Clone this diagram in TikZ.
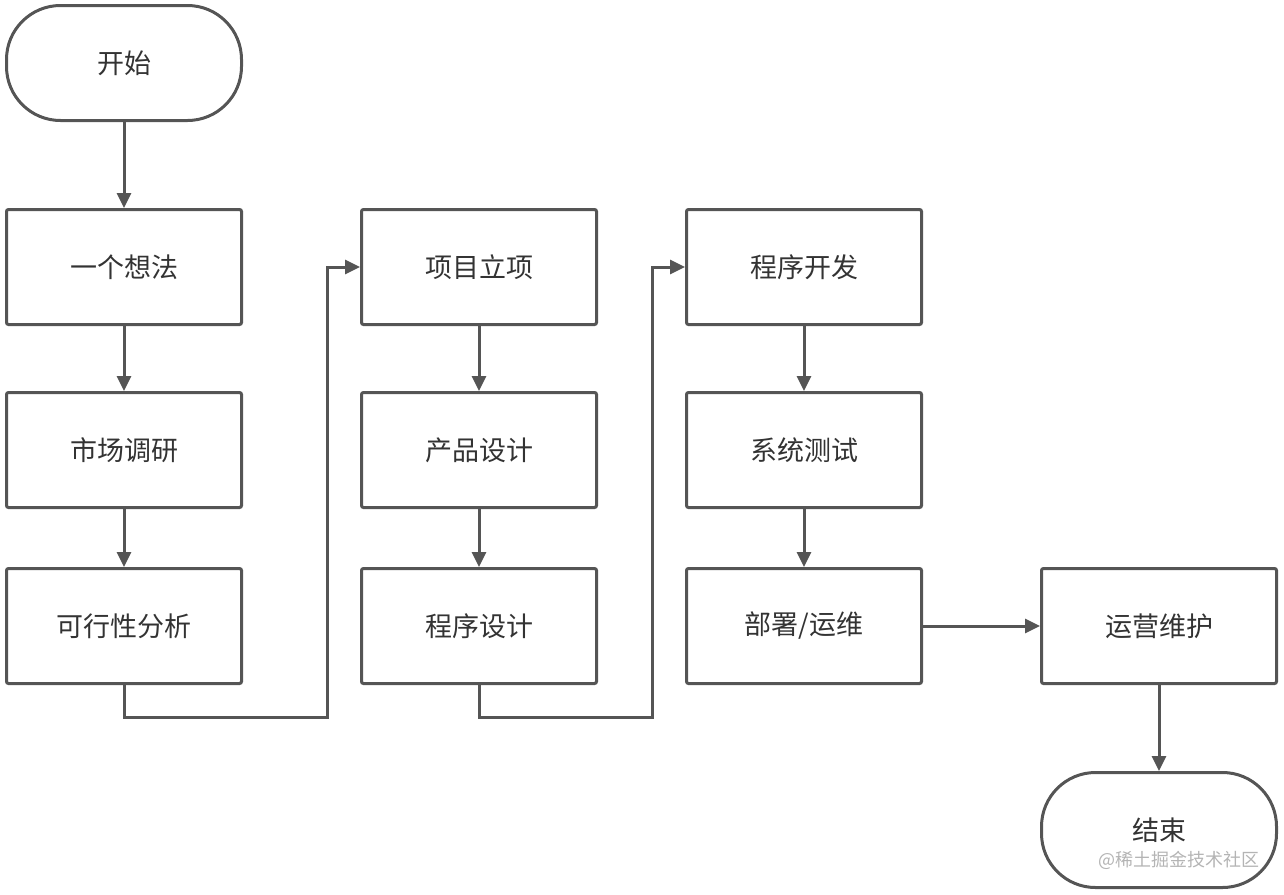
\documentclass[tikz,border=0pt]{standalone}
\usepackage{fontspec}
\setmainfont{Noto Sans CJK SC}
\usetikzlibrary{arrows.meta}
\definecolor{linegray}{HTML}{555555}
\definecolor{textgray}{HTML}{333333}
\definecolor{markgray}{HTML}{B4B4B4}
\begin{document}
\begin{tikzpicture}[x=0.5pt, y=-0.5pt]
				\tikzstyle{every node}=[align=center, inner sep=1pt, text=textgray, font=\fontsize{13.5}{16}\selectfont]
				\tikzstyle{stepbox}=[draw=linegray, line width=1.5pt, rounded corners=1pt, minimum width=117.5pt, minimum height=57.5pt]
				\tikzstyle{terminal}=[stepbox, rounded corners=27pt]
				\tikzstyle{flow}=[draw=linegray, line width=1.5pt, -{Triangle[length=7.5pt, width=7pt]}]
				\useasboundingbox (0, 0) rectangle (1284, 894);

				\node[terminal] (Start) at (124, 63) {开始};
				\node[stepbox] (Idea) at (124, 267) {一个想法};
				\node[stepbox] (Market) at (124, 450) {市场调研};
				\node[stepbox] (Feasible) at (124, 626) {可行性分析};
				\node[stepbox] (Project) at (479, 267) {项目立项};
				\node[stepbox] (Product) at (479, 450) {产品设计};
				\node[stepbox] (ProgDesign) at (479, 626) {程序设计};
				\node[stepbox] (Develop) at (804, 267) {程序开发};
				\node[stepbox] (Test) at (804, 450) {系统测试};
				\node[stepbox] (Deploy) at (804, 626) {部署/运维};
				\node[stepbox] (Operate) at (1159, 626) {运营维护};
				\node[terminal] (End) at (1159, 830) {结束};
				\node[text=markgray, font=\fontsize{9}{11}\selectfont] (Mark) at (1179, 860) {@稀土掘金技术社区};

				\draw[flow]  (Start) to (Idea);
				\draw[flow]  (Idea) to (Market);
				\draw[flow]  (Market) to (Feasible);
				\draw[flow]  (Feasible.south) -- ++(0, 32) -| (327, 267) -- (Project.west);
				\draw[flow]  (Project) to (Product);
				\draw[flow]  (Product) to (ProgDesign);
				\draw[flow]  (ProgDesign.south) -- ++(0, 32) -| (652, 267) -- (Develop.west);
				\draw[flow]  (Develop) to (Test);
				\draw[flow]  (Test) to (Deploy);
				\draw[flow]  (Deploy) to (Operate);
				\draw[flow]  (Operate) to (End);
			\end{tikzpicture}
\end{document}
